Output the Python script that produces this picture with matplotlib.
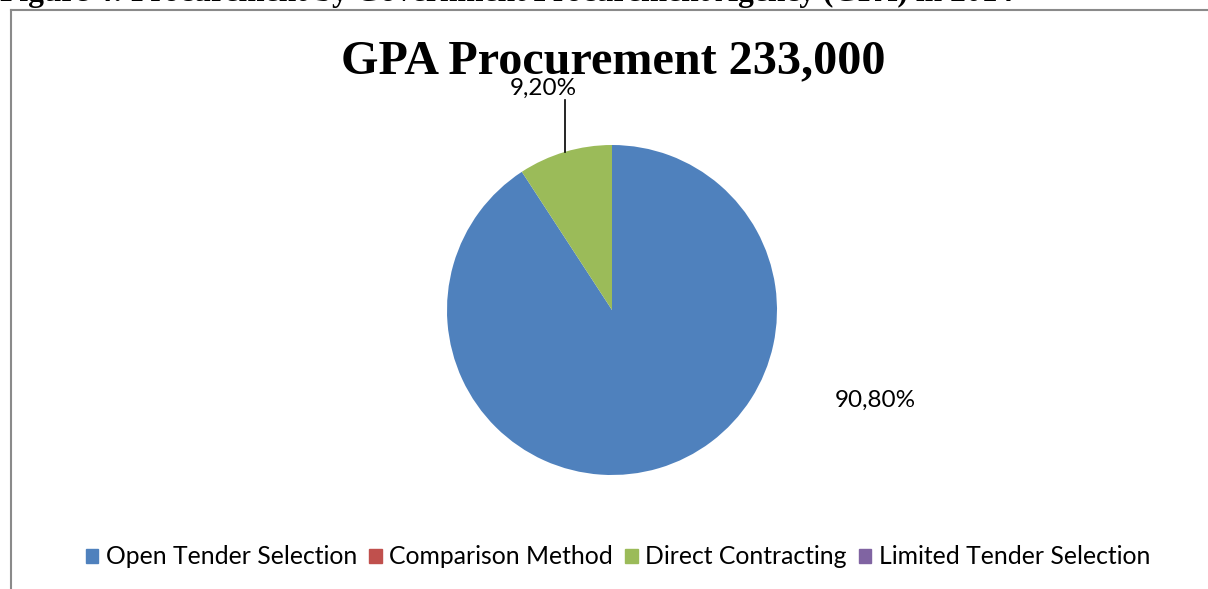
import matplotlib.pyplot as plt
from matplotlib.patches import Rectangle

### data
labels = ['Open Tender Selection', 'Comparison Method', 'Direct Contracting', 'Limited Tender Selection']
shares = [90.8, 0.0, 9.2, 0.0]
colors = ['#4F81BD', '#C0504D', '#9BBB59', '#8064A2']
title = 'GPA Procurement 233,000'
caption = 'Figure 4: Procurement by Government Procurement Agency (GPA) in 2014'

W, H = 1208, 589
fig = plt.figure(figsize=(W / 100, H / 100), dpi=100)

## chart frame (only top and left visible)
fig.add_artist(plt.Line2D([11 / W, 1.0], [1 - 9.5 / H, 1 - 9.5 / H], color='#8a8a8a', lw=1.5))
fig.add_artist(plt.Line2D([11 / W, 11 / W], [0, 1 - 9.5 / H], color='#8a8a8a', lw=1.5))

## caption cut off at the top
fig.text(0.0, 1 - 1.2 / H, caption, family='Liberation Serif', weight='bold', fontsize=22.7,
         ha='left', va='baseline')

fig.text(613 / W, 1 - 61 / H, title, family='Liberation Serif', weight='bold', fontsize=34.7,
         ha='center', va='center')

### pie, radius 165 px centred at (612, 310)
cx, cy, r = 612, 310, 165
ax = fig.add_axes([(cx - r) / W, (H - cy - r) / H, 2 * r / W, 2 * r / H])
wedges, _ = ax.pie(shares, colors=colors, startangle=90, counterclock=False, radius=1)
ax.set_xlim(-1, 1)
ax.set_ylim(-1, 1)
ax.set_aspect('equal')
ax.axis('off')

def px(x, y):
    return (x - cx) / r, (cy - y) / r

# labels
x1, y1 = px(565, 152)
x2, y2 = px(565, 100)
ax.plot([x1, x2], [y1, y2], color='black', lw=1.2, clip_on=False)
lx, ly = px(543, 88)
ax.text(lx, ly, f'{shares[2]:.2f}%'.replace('.', ','), ha='center', va='center',
        fontsize=17.5, family='Lato', clip_on=False)
lx, ly = px(875, 400)
ax.text(lx, ly, f'{shares[0]:.2f}%'.replace('.', ','), ha='center', va='center',
        fontsize=17.5, family='Lato', clip_on=False)

### legend
handles = [Rectangle((0, 0), 1, 1, color=c) for c in colors]
fig.legend(handles, labels, loc='center', bbox_to_anchor=(618 / W, 1 - 557 / H), ncol=4,
           frameon=False, prop={'family': 'Lato', 'size': 17.8}, handlelength=0.5,
           handleheight=0.5, handletextpad=0.3, columnspacing=0.5)

fig.savefig('out.png', dpi=100)
